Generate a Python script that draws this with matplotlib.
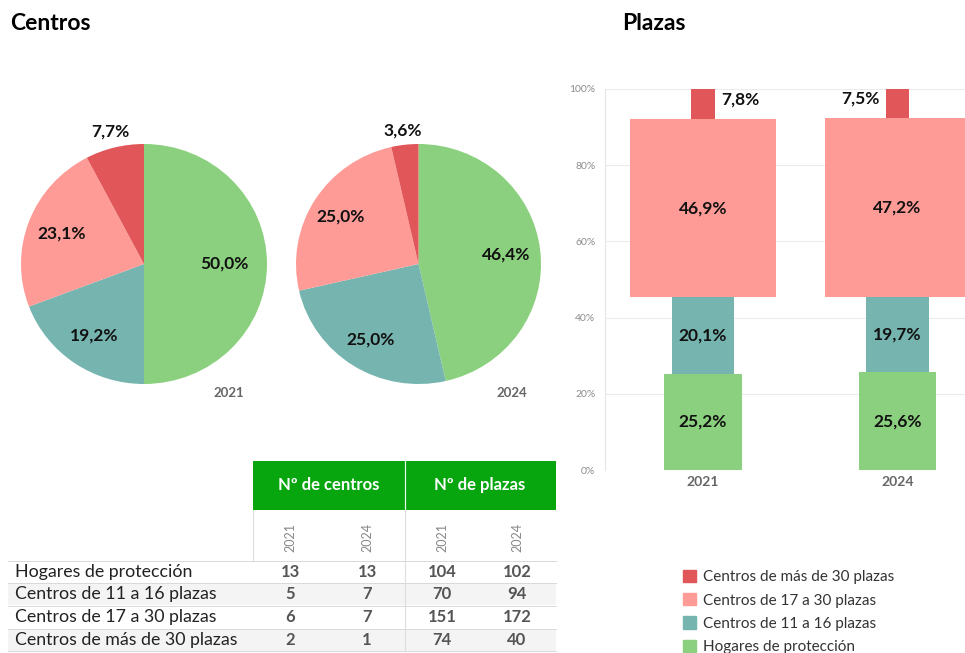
import matplotlib
matplotlib.use('Agg')
import numpy as np
import matplotlib.pyplot as plt
from matplotlib.patches import Rectangle, Patch

plt.rcParams['font.family'] = ['Lato', 'DejaVu Sans']

# --- data ---
categories = ['Hogares de protección', 'Centros de 11 a 16 plazas',
              'Centros de 17 a 30 plazas', 'Centros de más de 30 plazas']
years = ['2021', '2024']
centros_2021 = [13, 5, 6, 2]
centros_2024 = [13, 7, 7, 1]
plazas_2021 = [104, 70, 151, 74]
plazas_2024 = [102, 94, 172, 40]
plazas_pct_2021 = [25.2, 20.1, 46.9, 7.8]
plazas_pct_2024 = [25.6, 19.7, 47.2, 7.5]

colors = ['#8bd07e', '#76b4af', '#fe9b97', '#e05659']
bar_widths = [0.40, 0.32, 0.75, 0.123]   # Tableau-style variable widths
header_green = '#07a60f'

W, H = 965, 653


def px(x0, y0, w, h):
    return [x0 / W, 1 - (y0 + h) / H, w / W, h / H]


def fmt(v):
    return f"{v:.1f}%".replace('.', ',')


fig = plt.figure(figsize=(W / 100, H / 100), dpi=100)

# overlay for titles and table
ov = fig.add_axes([0, 0, 1, 1])
ov.set_xlim(0, W)
ov.set_ylim(H, 0)
ov.axis('off')

ov.text(10, 24, 'Centros', fontsize=16.5, fontweight='bold', va='center', ha='left')
ov.text(622, 24, 'Plazas', fontsize=16.5, fontweight='bold', va='center', ha='left')

# --- pies ---
pie_boxes = [px(21, 144, 246, 240), px(296, 144, 245, 240)]
pie_data = [centros_2021, centros_2024]
label_dist = [[0.65, 0.72, 0.72, 1.14], [0.72, 0.74, 0.75, 1.12]]
for k, (box, vals) in enumerate(zip(pie_boxes, pie_data)):
    ax = fig.add_axes(box)
    wedges, _ = ax.pie(vals, colors=colors, startangle=90, counterclock=False,
                       wedgeprops=dict(linewidth=0))
    tot = sum(vals)
    for w, v, d in zip(wedges, vals, label_dist[k]):
        ang = np.deg2rad((w.theta1 + w.theta2) / 2)
        ax.text(d * np.cos(ang), d * np.sin(ang), fmt(100 * v / tot),
                ha='center', va='center', fontsize=12.5, fontweight='bold', color='#111')
    ax.set_aspect('auto')
    ax.set_xlim(-1.0, 1.0)
    ax.set_ylim(-1.0, 1.0)

ov.text(229, 393, years[0], fontsize=9.5, fontweight='bold', color='#666', ha='center', va='center')
ov.text(512, 393, years[1], fontsize=9.5, fontweight='bold', color='#666', ha='center', va='center')

# --- Plazas bar chart ---
axb = fig.add_axes(px(605, 89, 360, 381))
for i, pct in enumerate([plazas_pct_2021, plazas_pct_2024]):
    bottom = 0
    for j, v in enumerate(pct):
        axb.bar(i, v / 100, width=bar_widths[j], bottom=bottom / 100,
                color=colors[j], linewidth=0, zorder=2)
        mid = (bottom + v / 2) / 100
        if j == 3:
            if i == 0:
                axb.text(i + bar_widths[j] / 2 + 0.03, mid + 0.012, fmt(v), ha='left',
                         va='center', fontsize=12.5, fontweight='bold', color='#111')
            else:
                axb.text(i - bar_widths[j] / 2 - 0.03, mid + 0.012, fmt(v), ha='right',
                         va='center', fontsize=12.5, fontweight='bold', color='#111')
        else:
            axb.text(i, mid, fmt(v), ha='center', va='center', fontsize=12.5,
                     fontweight='bold', color='#111')
        bottom += v

axb.set_xlim(-0.504, 1.347)
axb.set_ylim(0, 1)
axb.set_yticks([0, 0.2, 0.4, 0.6, 0.8, 1.0])
axb.set_yticklabels(['0%', '20%', '40%', '60%', '80%', '100%'], fontsize=7.5, color='#8c8c8c')
axb.set_xticks([0, 1])
axb.set_xticklabels(years, fontsize=10, fontweight='bold', color='#666')
axb.tick_params(length=0, pad=7)
axb.tick_params(axis='x', pad=4)
axb.grid(axis='y', color='#ececec', linewidth=0.8, zorder=0)
for s in ['top', 'right', 'bottom']:
    axb.spines[s].set_visible(False)
axb.spines['left'].set_color('#e6e6e6')
axb.set_axisbelow(True)

# --- table ---
col_x = [290, 367, 442, 517]
row_y = [572, 594, 617, 640]
ov.add_patch(Rectangle((253, 461), 303, 49, color=header_green, lw=0))
ov.plot([405, 405], [461, 650], color='#dddddd', lw=0.8)
ov.plot([405, 405], [461, 510], color='#e8f5e8', lw=0.8)
ov.plot([253, 253], [510, 561], color='#dddddd', lw=0.8)
ov.text(329, 485, 'Nº de centros', color='white', fontsize=12, fontweight='bold', ha='center', va='center')
ov.text(480, 485, 'Nº de plazas', color='white', fontsize=12, fontweight='bold', ha='center', va='center')
for x, yr in zip(col_x, years + years):
    ov.text(x, 537, yr, rotation=90, fontsize=9, color='#888', ha='center', va='center')

table_cols = [centros_2021, centros_2024, plazas_2021, plazas_2024]
for r, (cat, y) in enumerate(zip(categories, row_y)):
    if r % 2 == 1:
        ov.add_patch(Rectangle((8, y - 11), 548, 22, color='#f4f4f4', lw=0, zorder=0))
    ov.plot([8, 556], [y - 11, y - 11], color='#d9d9d9', lw=0.7)
    ov.text(15, y, cat, fontsize=12.8, color='#222', ha='left', va='center')
    for x, col in zip(col_x, table_cols):
        ov.text(x, y, str(col[r]), fontsize=12, fontweight='bold', color='#555',
                ha='center', va='center')
ov.plot([8, 556], [651, 651], color='#d9d9d9', lw=0.7)

# --- legend ---
handles = [Patch(color=c) for c in colors[::-1]]
fig.legend(handles, categories[::-1], loc='upper left',
           bbox_to_anchor=(683 / W, 1 - 570 / H), frameon=False, fontsize=11,
           handlelength=0.85, handleheight=0.85, handletextpad=0.45,
           labelspacing=0.58, borderaxespad=0, borderpad=0, labelcolor='#333')

fig.savefig('out.png', dpi=100)
